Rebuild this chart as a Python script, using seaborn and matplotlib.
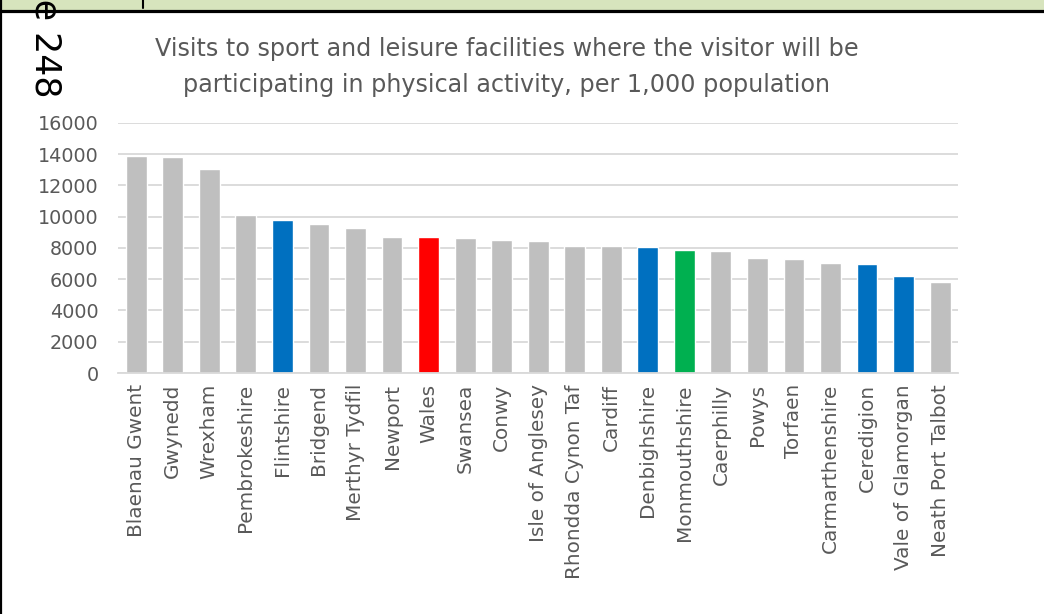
import matplotlib
matplotlib.use("Agg")
import matplotlib.pyplot as plt
import seaborn as sns
import pandas as pd
from matplotlib.patches import Rectangle
from matplotlib.lines import Line2D

# --- Data ---
AREAS = [
    "Blaenau Gwent", "Gwynedd", "Wrexham", "Pembrokeshire", "Flintshire",
    "Bridgend", "Merthyr Tydfil", "Newport", "Wales", "Swansea", "Conwy",
    "Isle of Anglesey", "Rhondda Cynon Taf", "Cardiff", "Denbighshire",
    "Monmouthshire", "Caerphilly", "Powys", "Torfaen", "Carmarthenshire",
    "Ceredigion", "Vale of Glamorgan", "Neath Port Talbot",
]
VISITS = [
    13870, 13800, 13060, 10090, 9770,
    9510, 9280, 8700, 8720, 8620, 8530,
    8450, 8130, 8130, 8040,
    7870, 7790, 7380, 7300, 7040,
    6980, 6230, 5800,
]
TITLE = ("Visits to sport and leisure facilities where the visitor will be\n"
         "participating in physical activity, per 1,000 population")

# highlight colours, everything else grey
GREY = "#bfbfbf"
HIGHLIGHT = {
    "Wales": "#ff0000",
    "Flintshire": "#0070c0",
    "Denbighshire": "#0070c0",
    "Ceredigion": "#0070c0",
    "Vale of Glamorgan": "#0070c0",
    "Monmouthshire": "#00b050",
}
TEXT_COL = "#595959"


def main():
    df = pd.DataFrame({"Area": AREAS, "Visits": VISITS})
    palette = {a: HIGHLIGHT.get(a, GREY) for a in AREAS}

    sns.set_theme(style="white")
    plt.rcParams["font.family"] = ["DejaVu Sans"]

    fig = plt.figure(figsize=(10.44, 6.14), dpi=100)
    ax = fig.add_axes([0.113, 0.3925, 0.805, 0.4075])

    sns.barplot(data=df, x="Area", y="Visits", hue="Area", palette=palette,
                width=0.57, legend=False, saturation=1, ax=ax)

    ax.set_ylim(0, 16000)
    ax.set_yticks(range(0, 16001, 2000))
    ax.set_xlim(-0.5, len(AREAS) - 0.5)
    ax.grid(axis="y", color="#d9d9d9", linewidth=1.3)
    ax.set_axisbelow(True)
    for side in ["left", "right", "top"]:
        ax.spines[side].set_visible(False)
    ax.spines["bottom"].set_color("#d9d9d9")
    ax.spines["bottom"].set_linewidth(1.3)
    ax.tick_params(axis="both", length=0, colors=TEXT_COL)
    ax.tick_params(axis="y", labelsize=13.8, pad=14)
    ax.tick_params(axis="x", labelsize=14.4, pad=8)
    plt.setp(ax.get_xticklabels(), rotation=90)
    ax.set_xlabel("")
    ax.set_ylabel("")

    fig.text(0.485, 1 - 67 / 614, TITLE, ha="center", va="center", fontsize=17.2,
             color=TEXT_COL, linespacing=1.62)

    # page frame: green header band, black rules, rotated page number
    fig.add_artist(Rectangle((0, 1 - 10 / 614), 1, 10 / 614,
                             transform=fig.transFigure, color="#d7e4bd", zorder=0))
    fig.add_artist(Line2D([0, 1], [1 - 10.5 / 614] * 2, transform=fig.transFigure,
                          color="black", linewidth=2.3))
    fig.add_artist(Line2D([1 / 1044] * 2, [0, 1], transform=fig.transFigure,
                          color="black", linewidth=1.6))
    fig.add_artist(Line2D([143 / 1044] * 2, [1, 1 - 8 / 614],
                          transform=fig.transFigure, color="black", linewidth=1.5))
    fig.text(0.043, 1 - 98 / 614, "Page 248", rotation=270, ha="center",
             va="bottom", fontsize=25, color="black")

    fig.savefig("out.png", dpi=100, facecolor="white")


if __name__ == "__main__":
    main()
